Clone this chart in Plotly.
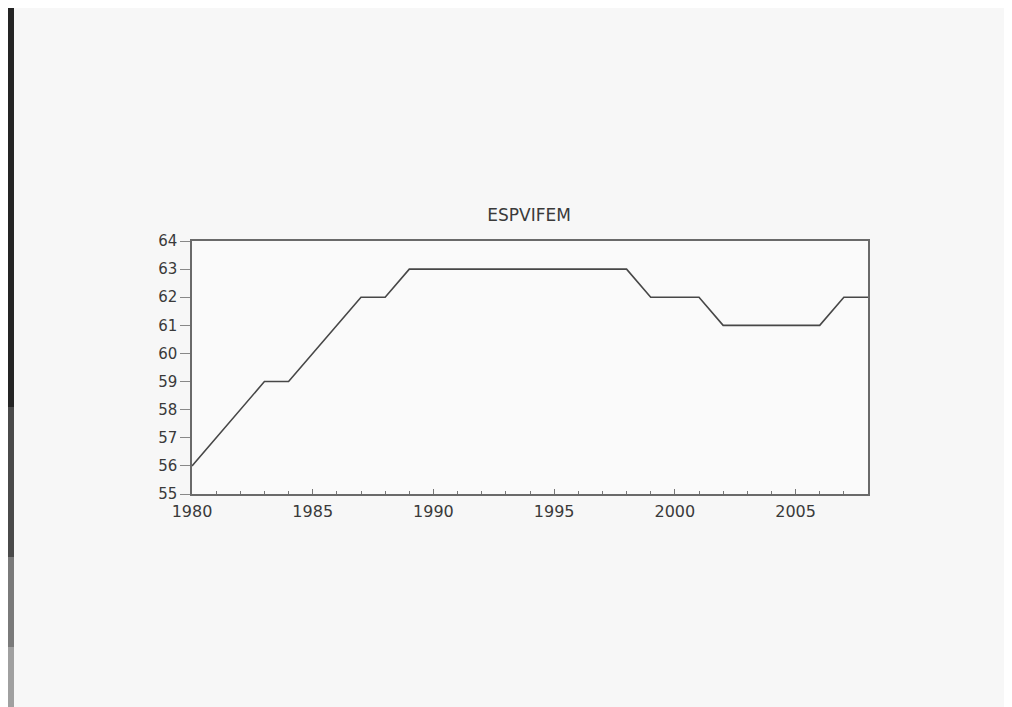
import plotly.graph_objects as go

years = list(range(1980, 2009))
espvifem = [56, 57, 58, 59, 59, 60, 61, 62, 62, 63,
            63, 63, 63, 63, 63, 63, 63, 63, 63, 62,
            62, 62, 61, 61, 61, 61, 61, 62, 62]
y_ticks = [55, 56, 57, 58, 59, 60, 61, 62, 63, 64]
x_ticks = [1980, 1985, 1990, 1995, 2000, 2005]

W, H = 1004, 699
L, R, T, B = 184, 144, 233, 213
PW, PH = W - L - R, H - T - B

fig = go.Figure()
fig.add_trace(go.Scatter(x=years, y=espvifem, mode="lines",
                         line=dict(color="#474747", width=1.6),
                         showlegend=False, hoverinfo="x+y"))

txt = "#3a3a3a"
fig.update_layout(
    width=W, height=H,
    paper_bgcolor="#f7f7f7", plot_bgcolor="#fafafa",
    margin=dict(l=L, r=R, t=T, b=B),
    title=dict(text="ESPVIFEM", x=0.519, xanchor="center", y=0.704, yanchor="middle",
               font=dict(family="DejaVu Sans", size=17, color=txt)),
    font=dict(family="DejaVu Sans", color=txt),
)
fig.update_xaxes(range=[1980, 2008], tickvals=x_ticks, ticks="inside", ticklen=5,
                 minor=dict(dtick=1, ticks="inside", ticklen=3, tickcolor="#777"),
                 tickcolor="#777", showgrid=False, zeroline=False,
                 showline=True, linecolor="#6a6a6a", linewidth=1.5, mirror=True,
                 ticklabelstandoff=2,
                 tickfont=dict(size=16, color=txt))
fig.update_yaxes(range=[55, 64], tickvals=y_ticks, ticks="outside", ticklen=10,
                 tickcolor="#888", showgrid=False, zeroline=False,
                 showline=True, linecolor="#6a6a6a", linewidth=1.5, mirror=True,
                 tickfont=dict(size=15, color=txt))

# scanned page edge on the left (darker at the top, fading towards the bottom)
edge_bands = [(699, 300, "#242424"), (300, 150, "#4a4a4a"), (150, 60, "#7a7a7a"), (60, 0, "#a0a0a0")]
for top_px, bot_px, col in edge_bands:
    fig.add_shape(type="rect", xref="paper", yref="paper",
                  x0=-L / PW, x1=(6 - L) / PW,
                  y0=(bot_px - B) / PH, y1=(top_px - B) / PH,
                  fillcolor=col, line=dict(width=0), layer="below")

fig.write_html("out.html")
